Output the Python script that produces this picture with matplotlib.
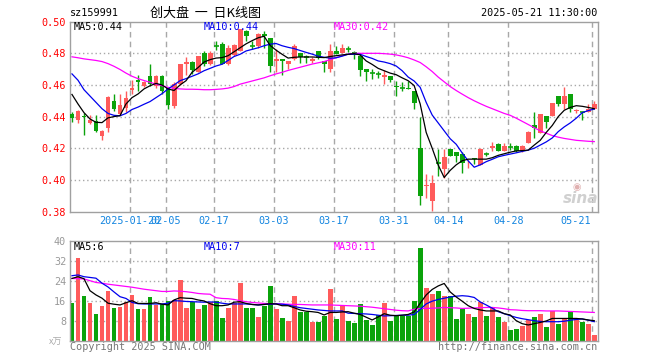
import matplotlib
matplotlib.use("Agg")
import matplotlib.pyplot as plt

# ---------------- data ----------------
dates = ["01-06","01-07","01-08","01-09","01-10","01-13","01-14","01-15","01-16","01-17",
         "01-20","01-21","01-22","01-23","01-24","01-27",
         "02-05","02-06","02-07","02-10","02-11","02-12","02-13","02-14","02-17","02-18",
         "02-19","02-20","02-21","02-24","02-25","02-26","02-27","02-28",
         "03-03","03-04","03-05","03-06","03-07","03-10","03-11","03-12","03-13","03-14",
         "03-17","03-18","03-19","03-20","03-21","03-24","03-25","03-26","03-27","03-28","03-31",
         "04-01","04-02","04-03","04-07","04-08","04-09","04-10","04-11","04-14","04-15",
         "04-16","04-17","04-18","04-21","04-22","04-23","04-24","04-25","04-28","04-29","04-30",
         "05-06","05-07","05-08","05-09","05-12","05-13","05-14","05-15","05-16","05-19","05-20","05-21"]

opens = [.4418,.4380,.4403,.4360,.4375,.4280,.4325,.4500,.4418,.4455,
         .4567,.4633,.4596,.4658,.4595,.4658,
         .4578,.4465,.4605,.4735,.4745,.4685,.4804,.4731,.4848,.4856,
         .4735,.4790,.4815,.4944,.4848,.4846,.4925,.4898,
         .4752,.4767,.4731,.4767,.4804,.4780,.4752,.4815,.4752,.4704,
         .4815,.4804,.4827,.4810,.4783,.4700,.4677,.4671,.4648,.4654,.4596,
         .4583,.4583,.4565,.4200,.3960,.3867,.4106,.4066,.4193,.4175,
         .4166,.4112,.4137,.4096,.4163,.4200,.4224,.4185,.4207,.4214,.4181,
         .4235,.4346,.4294,.4402,.4402,.4533,.4481,.4544,.4438,.4427,.4429,.4450]
highs = [.4430,.4440,.4420,.4410,.4410,.4315,.4528,.4545,.4540,.4565,
         .4630,.4660,.4624,.4731,.4660,.4660,
         .4590,.4617,.4735,.4775,.4752,.4783,.4815,.4815,.4880,.4870,
         .4850,.4860,.4956,.4950,.4877,.4930,.4940,.4900,
         .4825,.4767,.4752,.4856,.4804,.4790,.4775,.4815,.4752,.4856,
         .4846,.4860,.4846,.4815,.4794,.4700,.4700,.4690,.4694,.4658,.4627,
         .4617,.4627,.4565,.4400,.4040,.4030,.4198,.4198,.4198,.4175,
         .4175,.4126,.4140,.4200,.4175,.4240,.4230,.4230,.4235,.4220,.4220,
         .4310,.4429,.4419,.4402,.4485,.4533,.4590,.4544,.4450,.4430,.4480,.4498]
lows = [.4365,.4360,.4282,.4355,.4305,.4255,.4305,.4435,.4408,.4430,
        .4545,.4560,.4590,.4592,.4580,.4545,
        .4450,.4457,.4600,.4660,.4669,.4680,.4721,.4725,.4819,.4730,
        .4725,.4780,.4812,.4880,.4825,.4836,.4836,.4679,
        .4679,.4665,.4700,.4760,.4740,.4740,.4740,.4763,.4679,.4679,
        .4794,.4800,.4806,.4763,.4658,.4623,.4638,.4642,.4606,.4617,.4529,
        .4565,.4575,.4450,.3842,.3885,.3806,.4027,.4010,.4148,.4115,
        .4043,.4076,.4100,.4096,.4150,.4180,.4180,.4180,.4190,.4175,.4175,
        .4230,.4263,.4294,.4330,.4402,.4470,.4450,.4429,.4420,.4381,.4429,.4450]
closes = [.4392,.4435,.4395,.4380,.4312,.4310,.4525,.4445,.4475,.4515,
          .4582,.4618,.4616,.4605,.4658,.4560,
          .4475,.4606,.4730,.4748,.4697,.4780,.4731,.4800,.4846,.4735,
          .4835,.4850,.4953,.4908,.4846,.4925,.4908,.4717,
          .4767,.4752,.4752,.4846,.4779,.4776,.4763,.4773,.4735,.4815,
          .4794,.4831,.4825,.4794,.4696,.4685,.4675,.4669,.4665,.4631,.4586,
          .4581,.4577,.4485,.3898,.3965,.3983,.4103,.4147,.4151,.4153,
          .4106,.4116,.4129,.4193,.4161,.4214,.4185,.4216,.4205,.4181,.4214,
          .4304,.4329,.4419,.4367,.4485,.4481,.4533,.4450,.4442,.4425,.4450,.4481]

ma5 = [.4540,.4480,.4425,.4385,.4364,.4362,.4392,.4400,.4406,.4480,
       .4520,.4543,.4575,.4595,.4610,.4600,
       .4575,.4565,.4600,.4627,.4680,.4710,.4745,.4760,.4770,.4773,
       .4785,.4810,.4835,.4860,.4880,.4898,.4908,.4850,
       .4820,.4794,.4770,.4775,.4777,.4777,.4777,.4775,.4773,.4780,
       .4785,.4790,.4794,.4798,.4790,.4752,.4730,.4705,.4690,.4675,.4665,
       .4645,.4627,.4596,.4480,.4300,.4200,.4094,.4015,.4060,.4095,
       .4121,.4131,.4131,.4131,.4131,.4140,.4155,.4165,.4175,.4183,.4185,
       .4188,.4220,.4250,.4300,.4344,.4400,.4440,.4458,.4469,.4465,.4458,.4450]
ma10 = [.4670,.4630,.4570,.4530,.4490,.4450,.4420,.4408,.4405,.4420,
        .4445,.4460,.4478,.4495,.4520,.4545,
        .4575,.4600,.4627,.4640,.4655,.4670,.4690,.4705,.4720,.4731,
        .4755,.4780,.4794,.4815,.4825,.4835,.4848,.4858,
        .4862,.4848,.4838,.4830,.4818,.4806,.4795,.4782,.4775,.4769,
        .4772,.4782,.4794,.4794,.4794,.4780,.4768,.4752,.4745,.4735,.4720,
        .4690,.4650,.4625,.4585,.4490,.4410,.4360,.4310,.4260,.4225,
        .4170,.4120,.4080,.4095,.4115,.4130,.4146,.4155,.4163,.4171,.4180,
        .4188,.4200,.4220,.4240,.4265,.4305,.4335,.4360,.4390,.4425,.4438,.4448]
ma30 = [.4778,.4772,.4765,.4760,.4755,.4748,.4735,.4718,.4698,.4675,
        .4655,.4640,.4628,.4617,.4605,.4595,
        .4585,.4578,.4575,.4573,.4573,.4572,.4570,.4570,.4572,.4575,
        .4580,.4590,.4605,.4615,.4625,.4635,.4645,.4658,
        .4670,.4680,.4692,.4702,.4712,.4722,.4732,.4740,.4748,.4760,
        .4772,.4785,.4795,.4800,.4800,.4800,.4800,.4800,.4798,.4795,.4790,
        .4782,.4772,.4758,.4742,.4715,.4685,.4650,.4620,.4590,.4565,
        .4542,.4520,.4500,.4482,.4465,.4450,.4435,.4420,.4408,.4390,.4370,
        .4350,.4330,.4310,.4295,.4280,.4270,.4262,.4256,.4250,.4247,.4244,.4242]

volumes = [15.2,33.2,18.0,15.2,10.8,14.0,20.0,13.2,13.6,15.6,
           18.3,12.7,12.7,17.6,14.3,14.5,
           15.9,16.3,24.3,13.2,15.6,12.7,14.3,15.3,16.0,9.0,
           13.0,15.0,23.0,13.0,13.0,9.5,14.0,22.0,
           12.5,9.0,8.0,18.0,11.5,11.5,7.5,7.5,10.0,20.7,
           8.7,13.9,7.9,7.2,14.7,8.3,6.3,10.3,15.1,8.0,9.9,
           9.9,9.9,15.9,37.2,21.2,18.7,19.9,18.0,18.0,8.7,
           12.7,10.7,9.5,15.5,10.0,13.6,9.5,7.5,4.3,4.7,5.9,
           8.3,9.5,10.7,5.5,11.9,6.7,8.7,11.9,8.3,7.3,6.7,2.3]
vma5 = [24.9,25.6,24.8,20.0,18.3,17.0,15.0,14.6,14.3,15.2,
        16.0,14.9,14.9,14.9,15.2,14.6,
        14.3,16.3,17.2,17.0,16.9,16.3,15.9,14.8,14.0,14.0,
        14.3,15.4,15.6,14.9,14.5,14.3,14.5,14.8,
        14.7,14.0,14.0,13.2,12.3,11.8,11.6,11.3,10.3,11.3,
        11.3,11.5,11.6,11.0,10.5,9.4,8.3,9.5,10.8,10.2,10.0,
        10.2,10.5,11.5,15.0,18.3,20.5,21.9,22.9,19.5,17.5,
        15.8,14.0,12.9,12.3,11.9,11.9,11.9,10.8,10.3,8.0,6.8,
        6.3,6.8,7.3,7.9,8.9,8.9,8.9,8.9,8.9,8.7,8.3,8.0]
vma10 = [26.0,26.3,25.6,25.3,25.0,23.0,21.5,19.5,17.6,16.9,
         15.3,14.8,14.7,14.7,14.7,14.7,
         15.0,16.0,15.9,15.7,15.6,15.5,15.4,15.5,15.4,15.0,
         14.7,14.7,14.7,14.7,14.5,14.3,14.5,14.6,
         14.7,14.6,14.3,13.7,13.2,12.9,12.6,12.3,12.1,11.9,
         11.9,11.9,11.0,10.9,10.8,10.7,10.5,10.2,9.9,10.0,10.1,
         10.2,10.2,10.5,12.5,14.7,15.8,16.5,17.0,17.5,17.8,
         18.0,17.8,17.3,15.5,14.3,13.0,11.6,10.8,10.0,9.3,8.8,
         8.4,8.0,7.7,7.6,7.6,7.6,7.8,8.2,8.5,8.7,8.2,7.6]
vma30 = [24.9,24.8,24.7,24.0,23.3,23.0,22.6,22.3,22.0,21.7,
         21.4,21.0,20.6,20.3,20.0,19.7,
         19.7,19.9,19.8,19.6,19.3,18.9,18.7,18.6,17.2,16.9,
         16.8,16.5,16.0,15.6,15.3,15.1,14.9,14.8,
         14.8,14.7,14.6,14.5,14.5,14.4,14.3,14.3,14.3,14.3,
         14.2,14.1,14.0,13.9,13.8,13.6,13.4,13.1,12.8,12.5,12.2,
         12.0,11.9,12.6,12.9,12.9,13.0,13.1,13.3,13.2,13.1,
         12.9,13.0,13.1,13.2,13.3,13.3,13.1,12.8,12.4,12.3,12.1,
         12.0,12.0,12.0,11.9,11.9,11.9,11.8,11.7,11.6,11.5,11.4,11.3]

grid_dates = ["01-20","02-05","02-17","03-03","03-17","03-31","04-14","04-28","05-21"]
grid_labels = ["2025-01-20","02-05","02-17","03-03","03-17","03-31","04-14","04-28","05-21"]
price_ticks = [0.38, 0.40, 0.42, 0.44, 0.46, 0.48, 0.50]
vol_ticks = [8, 16, 24, 32, 40]

# ---------------- styles ----------------
RED = "#ff5b5b"
GREEN = "#0ba30b"
GRID = "#a8a8a8"
SPINE = "#a0a0a0"
MONO = "DejaVu Sans Mono"
CJK = ["Noto Sans CJK SC", "DejaVu Sans"]

W, H = 660, 360
fig = plt.figure(figsize=(W / 100, H / 100), dpi=100)
fig.patch.set_facecolor("white")


def fax(l, t, r, b):
    return fig.add_axes([l / W, 1 - b / H, (r - l) / W, (b - t) / H])


ax = fax(70.3, 21.7, 597.7, 211.5)
axv = fax(70.3, 240.7, 597.7, 340.7)

n = len(dates)
xs = list(range(n))
xlim = (-0.28, n - 1 + 0.57)
grid_x = [dates.index(d) - 0.33 for d in grid_dates]

for a in (ax, axv):
    a.set_xlim(*xlim)
    for s in a.spines.values():
        s.set_color(SPINE)
        s.set_linewidth(1.0)
    a.set_xticks([])
    a.tick_params(axis="y", length=0, pad=3)
    for gx in grid_x:
        a.axvline(gx, color=GRID, lw=1.0, ls=(0, (4, 3)), zorder=0)

# ---------------- price panel ----------------
ax.set_ylim(0.38, 0.50)
ax.set_yticks(price_ticks)
ax.set_yticklabels(["%.2f" % t for t in price_ticks], color="#ff0000",
                   fontsize=7.3, family=MONO)
for t in price_ticks[1:-1]:
    ax.axhline(t, color=GRID, lw=1.0, ls=(0, (1, 2)), zorder=0)

bw = 0.82
for i in xs:
    o, h, l, c = opens[i], highs[i], lows[i], closes[i]
    col = RED if c >= o else GREEN
    ax.vlines(i, l, h, color=col, lw=1.0, zorder=2)
    lo, hi = min(o, c), max(o, c)
    if hi - lo < 0.0004:
        ax.hlines((o + c) / 2, i - bw / 2, i + bw / 2, color=col, lw=1.2, zorder=3)
    else:
        ax.bar(i, hi - lo, bottom=lo, width=bw, color=col, lw=0, zorder=3)

ax.plot(xs, ma30, color="#ff00ff", lw=0.9, zorder=4)
ax.plot(xs, ma10, color="#0000ee", lw=0.9, zorder=4)
ax.plot(xs, ma5, color="#000000", lw=0.9, zorder=4)

# date labels
for k, (gx, lab) in enumerate(zip(grid_x, grid_labels)):
    if k == len(grid_x) - 1:
        ax.annotate(lab, (gx, 0), xycoords=("data", "axes fraction"),
                    xytext=(-1.5, -9.5), textcoords="offset pixels",
                    ha="right", va="center", color="#1385e0", fontsize=7.3, family=MONO)
    else:
        ax.annotate(lab, (gx, 0), xycoords=("data", "axes fraction"),
                    xytext=(0, -9.5), textcoords="offset pixels",
                    ha="center", va="center", color="#1385e0", fontsize=7.3, family=MONO)

# ---------------- volume panel ----------------
axv.set_ylim(0, 40)
axv.set_yticks(vol_ticks)
axv.set_yticklabels([str(t) for t in vol_ticks], color="#999999",
                    fontsize=7.3, family=MONO)
for t in vol_ticks[:-1]:
    axv.axhline(t, color=GRID, lw=1.0, ls=(0, (1, 2)), zorder=0)
vcols = [RED if closes[i] >= opens[i] else GREEN for i in xs]
axv.bar(xs, volumes, width=bw, color=vcols, lw=0, zorder=2)
axv.plot(xs, vma30, color="#ff00ff", lw=0.9, zorder=4)
axv.plot(xs, vma10, color="#0000ee", lw=0.9, zorder=4)
axv.plot(xs, vma5, color="#000000", lw=0.9, zorder=4)

# ---------------- texts ----------------
def ftext(x, y, s, **kw):
    fig.text(x / W, 1 - y / H, s, **kw)

ftext(70, 13, "sz159991", fontsize=7.3, family=MONO, va="center", ha="left", color="#000000")
ftext(150, 13, "创大盘  一  日K线图", fontsize=9.4, family=CJK, va="center", ha="left", color="#000000")
ftext(597, 13, "2025-05-21 11:30:00", fontsize=7.3, family=MONO, va="center", ha="right", color="#000000")

ftext(74, 27, "MA5:0.44", fontsize=7.3, family=MONO, va="center", ha="left", color="#000000")
ftext(204, 27, "MA10:0.44", fontsize=7.3, family=MONO, va="center", ha="left", color="#0000ee")
ftext(334, 27, "MA30:0.42", fontsize=7.3, family=MONO, va="center", ha="left", color="#ff00ff")

ftext(74, 247, "MA5:6", fontsize=7.3, family=MONO, va="center", ha="left", color="#000000")
ftext(204, 247, "MA10:7", fontsize=7.3, family=MONO, va="center", ha="left", color="#0000ee")
ftext(334, 247, "MA30:11", fontsize=7.3, family=MONO, va="center", ha="left", color="#ff00ff")

ftext(62, 342, "x万", fontsize=6.5, family=CJK, va="center", ha="right", color="#aaaaaa", style="italic")
ftext(70, 347, "Copyright 2025 SINA.COM", fontsize=7.3, family=MONO, va="center", ha="left", color="#777777")
ftext(597, 347, "http://finance.sina.com.cn", fontsize=7.3, family=MONO, va="center", ha="right", color="#777777")

ftext(581, 198, "sina", fontsize=11, family="DejaVu Sans", weight="bold", style="italic",
      va="center", ha="center", color="#d0d0d0")
ftext(577, 187, "◉", fontsize=7, family="DejaVu Sans", va="center", ha="center", color="#e0b0b0")

fig.savefig("out.png", dpi=100, facecolor="white")
